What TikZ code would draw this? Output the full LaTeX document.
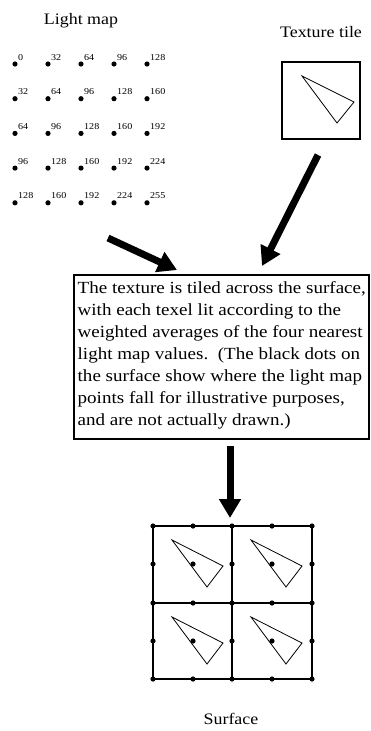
\documentclass[tikz,border=0pt]{standalone}
\usepackage{fontspec}
\setmainfont[FakeStretch=1.12]{Liberation Serif}
\usetikzlibrary{arrows.meta}
\begin{document}
\begin{tikzpicture}[x=1pt,y=-1pt,
  dot/.style={circle,fill=black,inner sep=0pt,minimum size=5.2pt},
  lbl/.style={font=\fontsize{9}{9}\selectfont,anchor=base west,inner sep=0pt},
  bigarrow/.style={line width=7pt,-{Triangle[length=19pt,width=21pt]}},
  frame/.style={draw,line width=1.3pt,inner sep=0pt},
  tri/.style={line width=0.8pt,line join=miter},
  title/.style={font=\fontsize{16}{16}\selectfont,inner sep=0pt}]
\useasboundingbox (0,0) rectangle (370,731);

% titles
\node[title] (lmtitle) at (81,21) {Light map};
\node[title] (tttitle) at (321,32) {Texture tile};
\node[title] (surftitle) at (231,719) {Surface};

% light map dots
\foreach \r in {0,...,4}{
  \foreach \c in {0,...,4}{
    \pgfmathtruncatemacro\v{min(32*(\r+\c),255)}
    \pgfmathsetmacro\px{15+33*\c}
    \pgfmathsetmacro\py{64+34.7*\r}
    \node[dot] (lm-\r-\c) at (\px,\py) {};
    \node[lbl] (lml-\r-\c) at (\px+3,\py-4) {\v};
  }
}

% texture tile
\node[frame,minimum width=78pt,minimum height=77pt] (tile) at (321,100.5) {};
\draw[tri] (302,76) -- (354,102) -- (337,123) -- cycle;

% description box
\node[frame,minimum width=295pt,minimum height=164pt] (desc) at (221.5,357) {};
\node[anchor=north west,inner sep=0pt,align=left,
  font=\fontsize{17}{22}\selectfont] (desctext) at (77.5,281) {%
The texture is tiled across the surface,\\
with each texel lit according to the\\
weighted averages of the four nearest\\
light map values.\ \ (The black dots on\\
the surface show where the light map\\
points fall for illustrative purposes,\\
and are not actually drawn.)};

% surface
\node[inner sep=0pt,minimum width=159pt,minimum height=153pt] (surf) at (232.5,602.5) {};
\draw[line width=1.4pt] (153,526) rectangle (312,679);
\draw[line width=1.4pt] (232,526) -- (232,679);
\draw[line width=1.4pt] (153,603) -- (312,603);
\foreach \cx/\cy in {153/526,232/526,153/603,232/603}{
  \draw[tri] (\cx+19,\cy+14) -- (\cx+70,\cy+40) -- (\cx+54,\cy+61) -- cycle;
}
\foreach \i/\x in {0/153,1/193,2/232,3/272,4/312}{
  \foreach \j/\y in {0/526,1/564,2/603,3/641,4/679}{
    \node[dot] (sd-\i-\j) at (\x,\y) {};
  }
}

% arrows
\coordinate (a1s) at (108,238);
\coordinate (a1e) at (177,270);
\coordinate (a2s) at (318,155);
\coordinate (a2e) at (262,266);
\coordinate (a3s) at (230,446);
\coordinate (a3e) at (230,518);
\draw[bigarrow] (a1s) -- (a1e);
\draw[bigarrow] (a2s) -- (a2e);
\draw[bigarrow] (a3s) -- (a3e);
\end{tikzpicture}
\end{document}
